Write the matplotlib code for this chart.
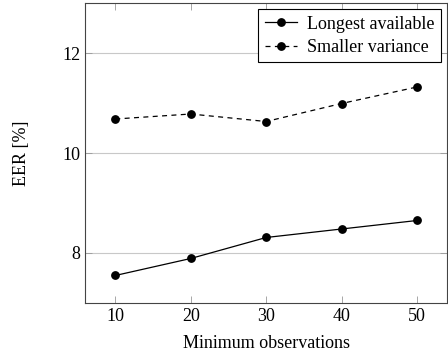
import matplotlib
matplotlib.use("Agg")
import matplotlib.pyplot as plt

x = [10, 20, 30, 40, 50]
longest = [7.55, 7.89, 8.31, 8.48, 8.65]
smaller = [10.68, 10.78, 10.63, 10.99, 11.32]
xticks = [10, 20, 30, 40, 50]
yticks = [8, 10, 12]

plt.rcParams['font.family'] = ['Liberation Serif', 'DejaVu Serif']

fig = plt.figure(figsize=(4.48, 3.55), dpi=100)
ax = fig.add_axes([0.19, 0.1465, 0.808, 0.845])

ax.plot(x, longest, '-', color='black', marker='o', markersize=5.3, linewidth=0.9,
        label='Longest available')
ax.plot(x, smaller, '--', color='black', marker='o', markersize=5.3, linewidth=0.9,
        dashes=(4, 3.5), label='Smaller variance')

ax.set_xlim(6, 54)
ax.set_ylim(7, 13)
ax.set_xticks(xticks)
ax.set_yticks(yticks)
ax.yaxis.grid(True, color='#c8c8c8', linewidth=0.8)
ax.set_axisbelow(True)
ax.tick_params(direction='in', top=True, right=True, labelsize=13, length=5,
               width=0.6, color='#999999')
for s in ax.spines.values():
    s.set_linewidth(0.8)
    s.set_color('#444444')

ax.set_xlabel('Minimum observations', fontsize=13, labelpad=7)
ax.set_ylabel('EER [%]', fontsize=13, labelpad=23)

leg = ax.legend(loc='upper right', fontsize=13, frameon=True, fancybox=False,
                edgecolor='black', framealpha=1, borderaxespad=0.35,
                handlelength=1.8, handletextpad=0.55, borderpad=0.35,
                labelspacing=0.35)
leg.get_frame().set_linewidth(0.8)

fig.savefig('out.png', dpi=100)
